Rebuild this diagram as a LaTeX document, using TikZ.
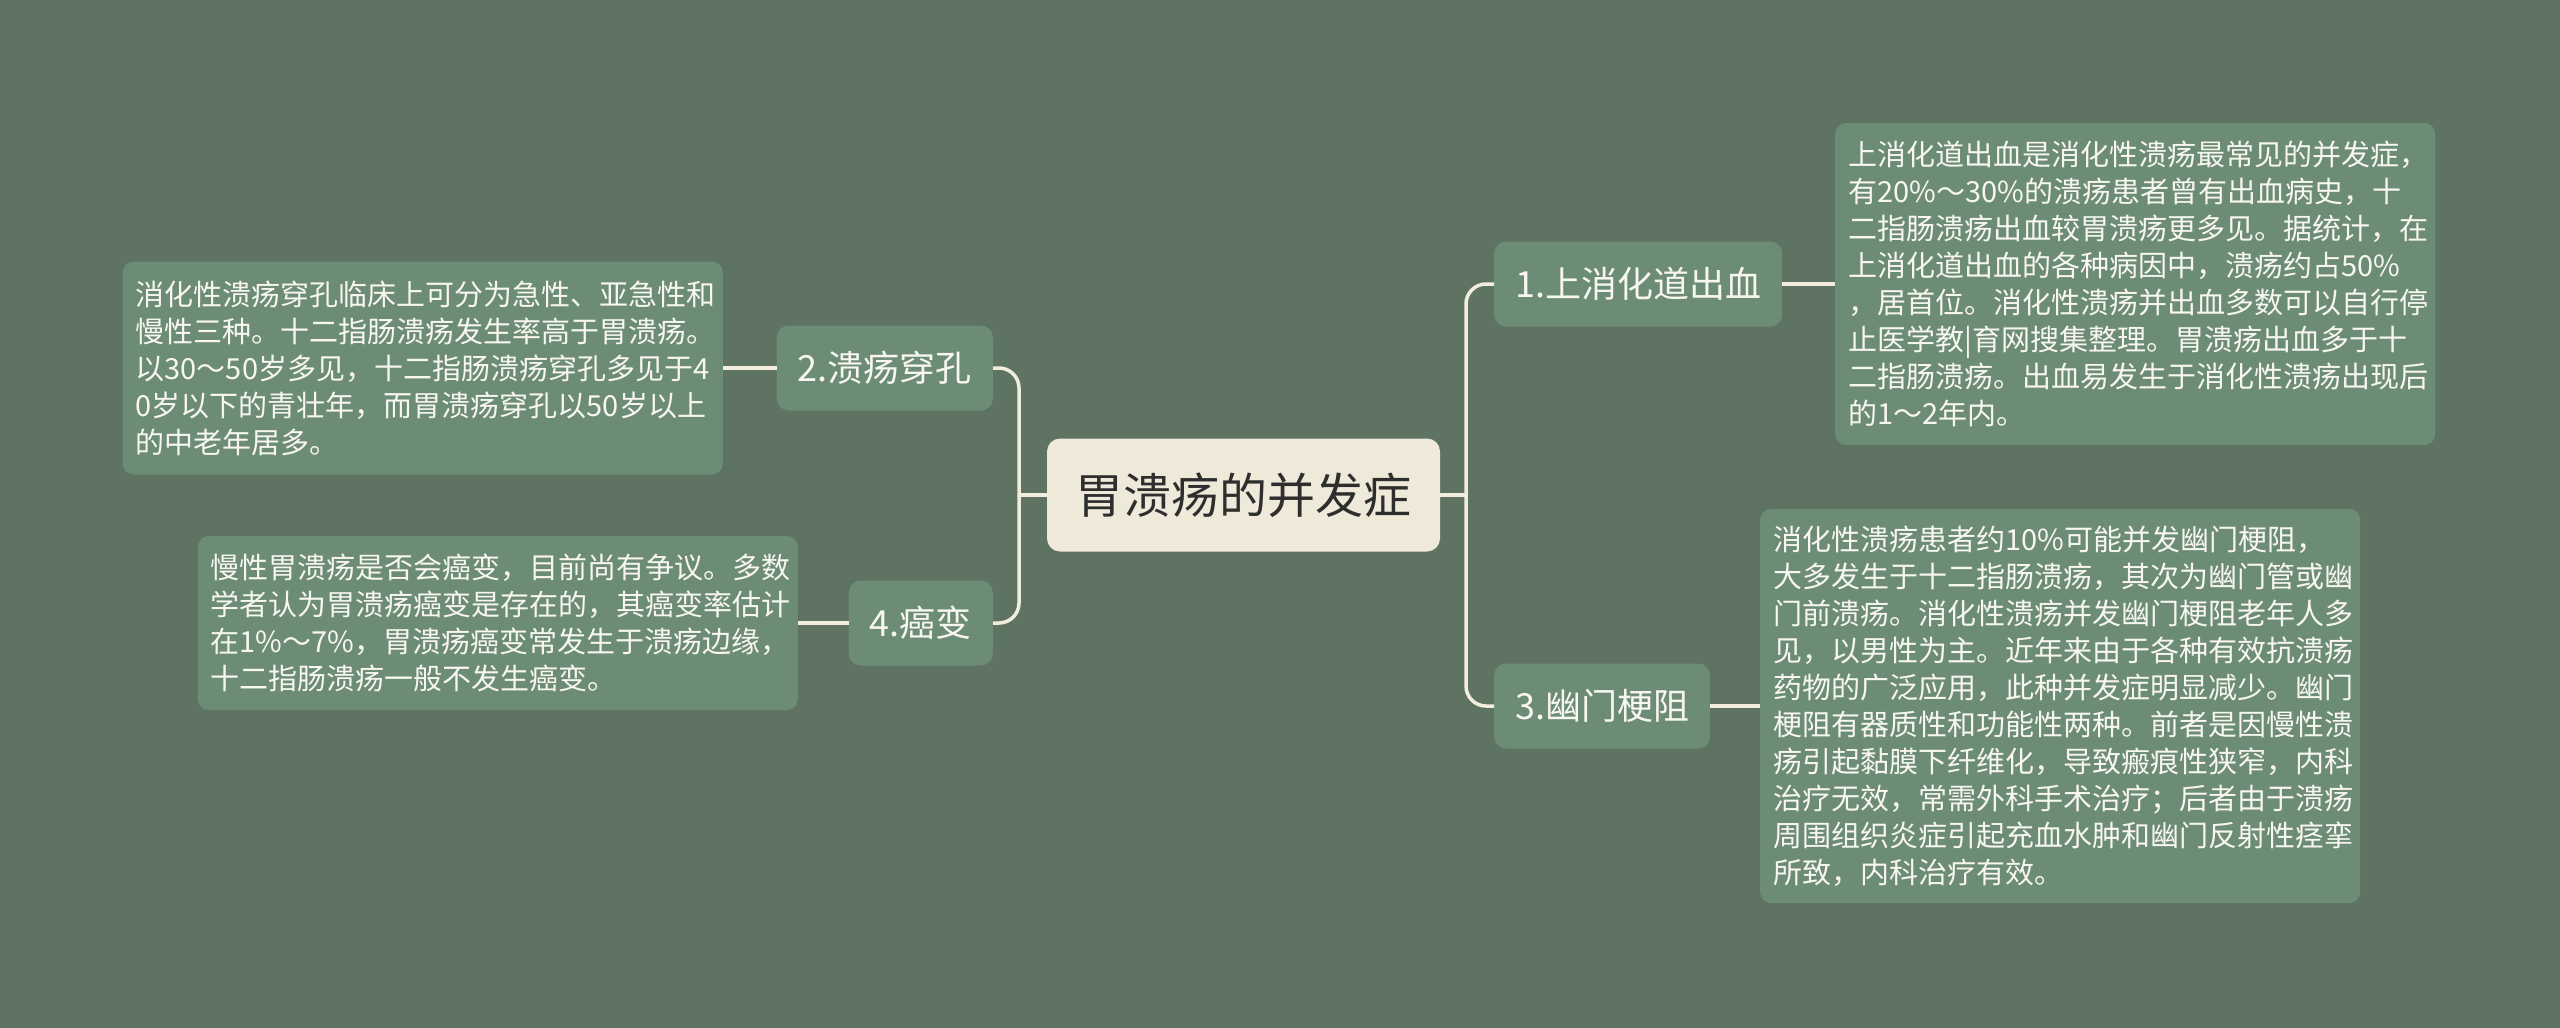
\documentclass[tikz,border=0pt]{standalone}
\usepackage{fontspec}
\setmainfont{Noto Sans CJK SC}
\definecolor{bgc}{HTML}{5F7363}
\definecolor{boxc}{HTML}{6D8C75}
\definecolor{centc}{HTML}{EFE9DA}
\definecolor{linec}{HTML}{F2EDDC}
\definecolor{txtc}{HTML}{F7F7F0}
\definecolor{darkc}{HTML}{2E2E2E}
\tikzset{
  conn/.style={draw=linec, line width=3.5pt},
  rconn/.style={conn, rounded corners=20pt},
  topic/.style={fill=boxc, rounded corners=12pt, text=txtc, inner xsep=21pt, inner ysep=0pt,
    minimum height=85pt, font=\fontsize{36}{42}\selectfont},
  detail/.style={fill=boxc, rounded corners=11pt, text=txtc, inner xsep=13pt, inner ysep=0pt,
    text width=574pt, align=left, font=\fontsize{29}{37}\selectfont},
  central/.style={fill=centc, rounded corners=13pt, text=darkc, minimum width=393pt,
    minimum height=113pt, font=\fontsize{48}{56}\selectfont}
}
\begin{document}
\begin{tikzpicture}[x=1pt,y=-1pt]
\fill[bgc] (0,0) rectangle (2560,1028);
\useasboundingbox (0,0) rectangle (2560,1028);

\node[central] (c) at (1243.5,495) {胃溃疡的并发症};

\node[topic, anchor=west] (n1) at (1494,284) {1.上消化道出血};
\node[topic, anchor=west] (n3) at (1494,706) {3.幽门梗阻};
\node[topic, anchor=east] (n2) at (993,368) {2.溃疡穿孔};
\node[topic, anchor=east] (n4) at (993,623) {4.癌变};

\node[detail, anchor=west, minimum height=322pt] (b1) at (1835,284) {上消化道出血是消化性溃疡最常见的并发症，\\有20\%～30\%的溃疡患者曾有出血病史，十\\二指肠溃疡出血较胃溃疡更多见。据统计，在\\上消化道出血的各种病因中，溃疡约占50\%\\，居首位。消化性溃疡并出血多数可以自行停\\止医学教|育网搜集整理。胃溃疡出血多于十\\二指肠溃疡。出血易发生于消化性溃疡出现后\\的1～2年内。};

\node[detail, anchor=west, minimum height=394pt] (b3) at (1760,706) {消化性溃疡患者约10\%可能并发幽门梗阻，\\大多发生于十二指肠溃疡，其次为幽门管或幽\\门前溃疡。消化性溃疡并发幽门梗阻老年人多\\见，以男性为主。近年来由于各种有效抗溃疡\\药物的广泛应用，此种并发症明显减少。幽门\\梗阻有器质性和功能性两种。前者是因慢性溃\\疡引起黏膜下纤维化，导致瘢痕性狭窄，内科\\治疗无效，常需外科手术治疗；后者由于溃疡\\周围组织炎症引起充血水肿和幽门反射性痉挛\\所致，内科治疗有效。};

\node[detail, anchor=east, minimum height=213pt] (b2) at (723,368) {消化性溃疡穿孔临床上可分为急性、亚急性和\\慢性三种。十二指肠溃疡发生率高于胃溃疡。\\以30～50岁多见，十二指肠溃疡穿孔多见于4\\0岁以下的青壮年，而胃溃疡穿孔以50岁以上\\的中老年居多。};

\node[detail, anchor=east, minimum height=174pt] (b4) at (798,623) {慢性胃溃疡是否会癌变，目前尚有争议。多数\\学者认为胃溃疡癌变是存在的，其癌变率估计\\在1\%～7\%，胃溃疡癌变常发生于溃疡边缘，\\十二指肠溃疡一般不发生癌变。};

\coordinate (rs) at (1466,495);
\coordinate (ls) at (1019,495);

\draw[conn] (c.east) -- (rs);
\draw[rconn] (rs) |- (n1.west);
\draw[rconn] (rs) |- (n3.west);
\draw[conn] (c.west) -- (ls);
\draw[rconn] (ls) |- (n2.east);
\draw[rconn] (ls) |- (n4.east);

\draw[conn] (n1.east) -- (b1.west);
\draw[conn] (n3.east) -- (b3.west);
\draw[conn] (n2.west) -- (b2.east);
\draw[conn] (n4.west) -- (b4.east);
\end{tikzpicture}
\end{document}
